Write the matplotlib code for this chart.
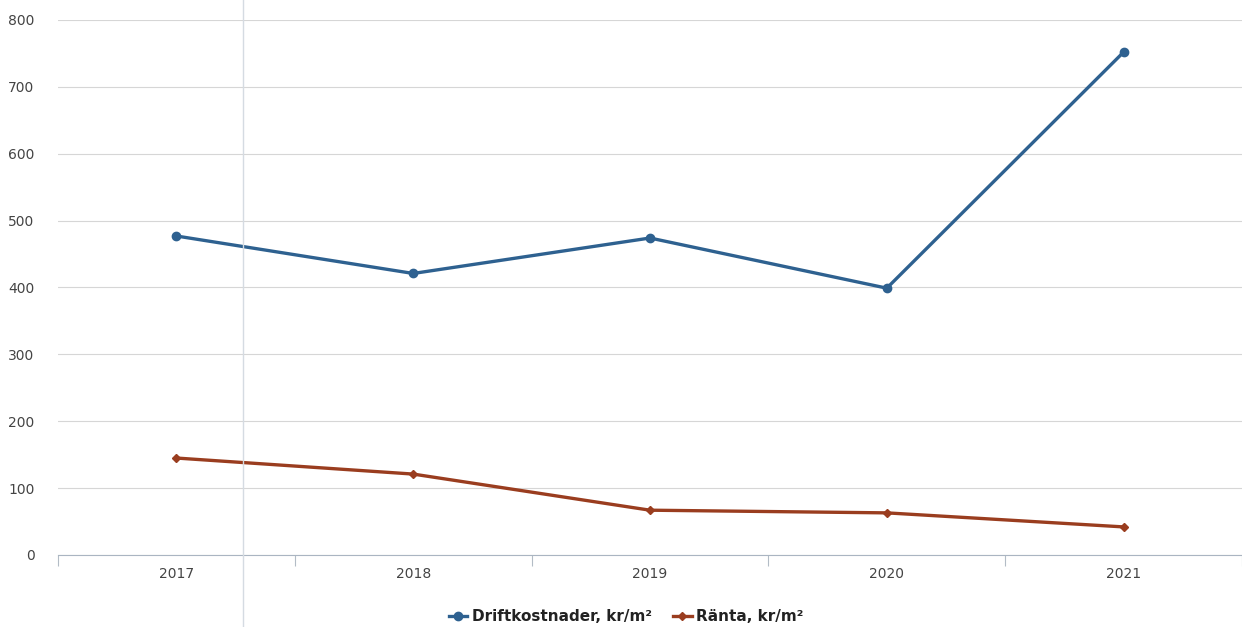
import matplotlib
matplotlib.use('Agg')
import matplotlib.pyplot as plt
import numpy as np

years = ['2017', '2018', '2019', '2020', '2021']
drift = [477, 421, 474, 399, 752]
ranta = [145, 121, 67, 63, 42]
yticks = [0, 100, 200, 300, 400, 500, 600, 700, 800]

blue = '#2e6190'
brown = '#9a3d1f'

fig = plt.figure(figsize=(12.42, 6.27), dpi=100)
ax = fig.add_axes([58 / 1242, 1 - 555 / 627, 1 - 58 / 1242, (555 - 20) / 627])

x = np.arange(len(years))
ax.plot(x, drift, color=blue, lw=2.4, marker='o', ms=6, label='Driftkostnader, kr/m²', zorder=3)
ax.plot(x, ranta, color=brown, lw=2.4, marker='D', ms=4.5, label='Ränta, kr/m²', zorder=3)

ax.set_xlim(-0.5, len(years) - 0.5)
ax.set_ylim(0, 800)
ax.set_yticks(yticks)
ax.set_yticklabels([str(v) for v in yticks])
ax.grid(axis='y', color='#d6d6d6', lw=0.8)
ax.set_axisbelow(True)

# category labels centred, ticks on the boundaries
ax.set_xticks(x)
ax.set_xticklabels(years)
ax.tick_params(axis='x', length=0, pad=9, labelsize=10, labelcolor='#444444')
ax.set_xticks(np.arange(-0.5, len(years)), minor=True)
ax.tick_params(axis='x', which='minor', length=8, color='#b3bcc6', width=0.8)
ax.tick_params(axis='y', length=0, pad=17, labelsize=10, labelcolor='#444444')

for s in ['top', 'right', 'left']:
    ax.spines[s].set_visible(False)
ax.spines['bottom'].set_color('#aab5c2')

# faint vertical scan line
fig.add_artist(plt.Line2D([243 / 1242, 243 / 1242], [0, 1], color='#d5dbe2', lw=1, transform=fig.transFigure))

leg = ax.legend(loc='lower center', bbox_to_anchor=(0.48, -0.155), ncol=2, frameon=False,
                fontsize=11, handlelength=1.2, columnspacing=1.4, handletextpad=0.3)
for t in leg.get_texts():
    t.set_fontweight('bold')
    t.set_color('#222222')

fig.savefig('out.png', dpi=100)
